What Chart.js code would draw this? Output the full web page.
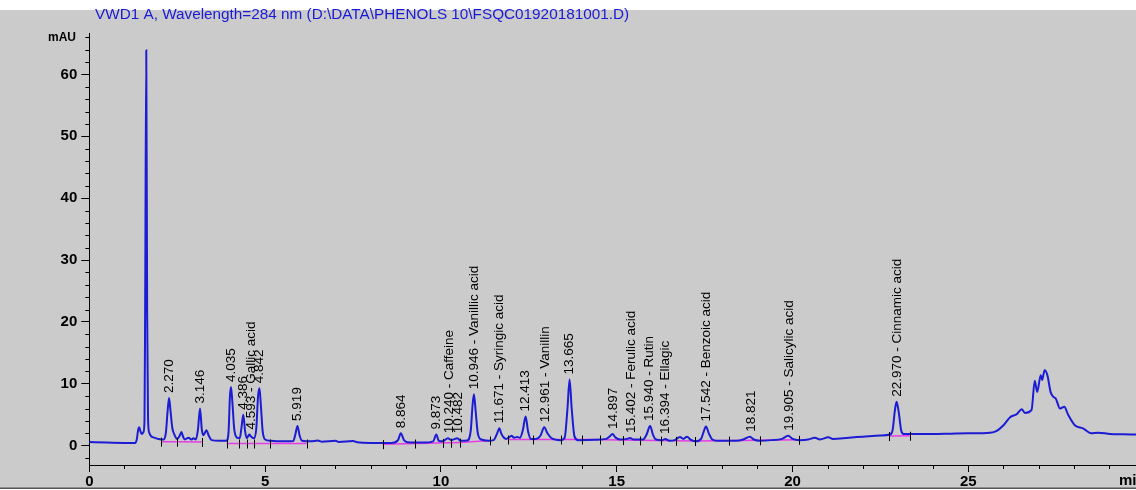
<!DOCTYPE html>
<html>
<head>
<meta charset="utf-8">
<script src="https://cdn.jsdelivr.net/npm/chart.js@4.4.1/dist/chart.umd.min.js"></script>
<style>
  html, body { margin: 0; padding: 0; background: #ffffff; overflow: hidden; }
  canvas { display: block; }
</style>
</head>
<body>
<canvas id="c" width="1136" height="490"></canvas>
<script>
// ---- DATA ----
const chartTitle = "VWD1 A, Wavelength=284 nm (D:\\DATA\\PHENOLS 10\\FSQC01920181001.D)";
const yUnit = "mAU";
const xUnit = "min";

// detector signal: [retention time (min), absorbance (mAU)]
const signal = [
  [0,0.6],[0.5,0.5],[1.0,0.45],[1.3,0.45],[1.35,1.0],[1.39,2.6],[1.42,3.0],[1.45,2.4],[1.49,1.9],
  [1.54,2.2],[1.57,4.0],[1.59,24],[1.62,63.9],[1.645,22],[1.67,4.5],[1.70,2.2],[1.75,1.6],[1.85,1.3],
  [2.0,1.05],[2.12,1.0],[2.18,2.2],[2.23,5.8],[2.27,7.7],[2.31,5.6],[2.36,2.9],[2.42,1.8],[2.50,1.1],
  [2.57,1.6],[2.62,2.2],[2.67,1.4],[2.72,1.0],[2.82,1.3],[2.90,1.0],[2.96,1.2],[3.03,1.0],[3.09,2.6],
  [3.15,6.0],[3.20,2.6],[3.25,1.7],[3.33,2.5],[3.40,1.6],[3.48,0.9],[3.70,0.8],[3.90,0.8],[3.96,2.2],
  [4.00,8.0],[4.03,9.5],[4.07,7.0],[4.12,2.8],[4.20,1.3],[4.28,1.2],[4.33,3.0],[4.38,5.0],[4.43,2.4],
  [4.48,1.2],[4.55,1.8],[4.60,1.5],[4.68,1.2],[4.75,2.8],[4.80,8.0],[4.84,9.3],[4.88,6.5],[4.93,2.4],
  [5.00,1.0],[5.15,0.8],[5.40,0.7],[5.80,0.75],[5.86,1.8],[5.92,3.2],[5.98,1.7],[6.05,0.8],[6.30,0.7],
  [6.50,0.85],[6.62,0.65],[7.00,0.8],[7.10,0.6],[7.50,0.75],[7.62,0.55],[8.00,0.45],[8.60,0.45],
  [8.78,0.9],[8.86,2.0],[8.95,0.9],[9.05,0.55],[9.50,0.5],[9.78,0.7],[9.87,1.8],[9.94,0.8],[10.05,0.7],
  [10.20,1.2],[10.30,0.9],[10.40,1.1],[10.47,1.2],[10.56,0.8],[10.75,0.85],[10.85,2.5],[10.90,6.5],
  [10.94,8.3],[10.99,5.5],[11.05,2.0],[11.15,1.0],[11.35,0.8],[11.50,0.9],[11.60,2.0],[11.66,2.8],
  [11.73,1.8],[11.85,1.1],[11.95,1.4],[12.01,1.6],[12.08,1.3],[12.17,1.4],[12.25,1.3],[12.33,2.5],
  [12.41,4.7],[12.48,2.3],[12.56,1.1],[12.70,1.1],[12.83,1.6],[12.94,3.0],[13.03,2.0],[13.15,1.2],
  [13.40,0.9],[13.52,1.3],[13.60,6.0],[13.66,10.7],[13.72,6.0],[13.80,1.5],[13.90,0.9],[14.40,0.95],
  [14.70,1.1],[14.80,1.5],[14.88,1.9],[14.97,1.3],[15.10,1.0],[15.30,1.1],[15.38,1.25],[15.48,1.0],
  [15.75,1.0],[15.85,1.8],[15.95,3.2],[16.03,1.8],[16.12,1.0],[16.30,0.9],[16.38,1.1],[16.50,0.8],
  [16.65,0.9],[16.80,1.4],[16.90,1.1],[17.00,1.45],[17.10,1.0],[17.25,0.7],[17.40,1.1],[17.47,2.2],
  [17.54,3.1],[17.62,2.0],[17.72,1.0],[17.85,0.8],[18.40,0.8],[18.60,1.0],[18.79,1.45],[18.90,1.0],
  [19.05,0.8],[19.40,0.9],[19.70,1.1],[19.88,1.6],[20.00,1.1],[20.20,0.9],[20.45,1.0],[20.64,1.3],
  [20.78,1.0],[21.02,1.35],[21.15,1.1],[21.60,1.3],[22.00,1.45],[22.50,1.65],[22.78,1.8],[22.85,2.6],
  [22.91,5.6],[22.96,7.1],[23.02,5.5],[23.09,2.5],[23.16,1.9],[23.40,1.9],[24.00,1.9],[24.50,1.95],
  [25.00,2.0],[25.62,2.1],[25.81,2.4],[26.00,3.3],[26.19,4.6],[26.38,5.1],[26.52,5.9],[26.61,5.3],
  [26.80,5.8],[26.89,10.5],[26.96,8.7],[27.06,11.4],[27.10,10.6],[27.17,12.2],[27.25,11.4],[27.34,8.7],
  [27.42,7.9],[27.49,7.6],[27.61,6.0],[27.73,6.3],[27.84,5.0],[28.03,3.3],[28.26,2.8],[28.50,2.0],
  [28.69,2.1],[29.03,1.9],[29.40,1.85],[29.80,1.8]
];

// integration baselines: [startTime, startValue, endTime, endValue]
const baselines = [
  [2.04,0.65,2.49,0.65],[2.49,0.65,3.20,0.6],[3.91,0.35,6.18,0.35],[8.34,0.25,10.54,0.5],
  [10.54,0.5,11.40,0.85],[11.92,1.0,14.52,1.0],[14.57,0.95,17.23,0.75],[17.23,0.75,20.19,0.95],
  [22.75,1.55,23.34,1.6]
];

// peak start/end markers: [time, value]
const peakMarks = [
  [2.04,0.65],[2.49,0.65],[3.20,0.6],[3.91,0.35],[4.27,0.35],[4.49,0.35],[4.68,0.35],[5.14,0.35],[6.18,0.35],
  [8.34,0.25],[9.26,0.35],[10.07,0.45],[10.29,0.48],[10.54,0.5],[11.40,0.85],[11.92,1.0],[12.63,1.0],
  [13.42,1.0],[14.00,1.0],[14.52,1.0],[15.19,0.9],[15.66,0.85],[16.26,0.82],[16.69,0.78],[17.23,0.75],
  [18.20,0.82],[19.08,0.87],[20.19,0.95],[22.75,1.55],[23.34,1.6]
];

// peak annotations
const peakTimes = [2.270,3.146,4.035,4.386,4.593,4.842,5.919,8.864,9.873,10.240,10.482,10.946,11.671,
  12.413,12.961,13.665,14.897,15.402,15.940,16.394,17.542,18.821,19.905,22.970];
const peakTexts = ["2.270","3.146","4.035","4.386","4.593 - Gallic acid","4.842","5.919","8.864","9.873",
  "10.240 - Caffeine","10.482","10.946 - Vanillic acid","11.671 - Syringic acid","12.413",
  "12.961 - Vanillin","13.665","14.897","15.402 - Ferulic acid","15.940 - Rutin","16.394 - Ellagic",
  "17.542 - Benzoic acid","18.821","19.905 - Salicylic acid","22.970 - Cinnamic acid"];

const yMajorStep = 10, yMinorStep = 2;
const xMajorStep = 5, xMinorStep = 1;

// ---- RENDER ----
const FONT = '"Liberation Sans", Arial, sans-serif';
const GRAY = '#cbcbcb';

const bgPlugin = {
  id: 'bg',
  beforeDraw(chart) {
    const c = chart.ctx;
    c.save();
    c.fillStyle = '#ffffff';
    c.fillRect(0, 0, chart.width, chart.height);
    c.fillStyle = GRAY;
    c.fillRect(0, 10, chart.width, 478);
    c.fillStyle = '#555555';
    c.fillRect(0, 487.5, chart.width, 1.5);
    c.fillStyle = '#1a1ad6';
    c.font = '15.3px ' + FONT;
    c.textAlign = 'left';
    c.textBaseline = 'middle';
    c.fillText(chartTitle, 95, 15);
    c.restore();
  }
};

function nearestPeakValue(t) {
  let best = null;
  for (const [x, y] of signal) {
    if (Math.abs(x - t) <= 0.05) best = best === null ? y : Math.max(best, y);
  }
  if (best === null) {
    for (let i = 1; i < signal.length; i++) {
      if (signal[i][0] >= t) {
        const [x0, y0] = signal[i - 1], [x1, y1] = signal[i];
        best = y0 + (y1 - y0) * (t - x0) / (x1 - x0);
        break;
      }
    }
  }
  return best;
}

const annoPlugin = {
  id: 'anno',
  afterDatasetsDraw(chart) {
    const c = chart.ctx, xs = chart.scales.x, ys = chart.scales.y;
    c.save();
    c.strokeStyle = '#000';
    c.lineWidth = 1;
    for (const [t, v] of peakMarks) {
      const px = Math.round(xs.getPixelForValue(t)) + 0.5;
      const py = ys.getPixelForValue(v);
      c.beginPath(); c.moveTo(px, py - 4); c.lineTo(px, py + 5); c.stroke();
    }
    c.fillStyle = '#000';
    c.font = '13.5px ' + FONT;
    c.textAlign = 'left';
    c.textBaseline = 'middle';
    peakTimes.forEach((t, i) => {
      const v = nearestPeakValue(t);
      const px = xs.getPixelForValue(t);
      const py = ys.getPixelForValue(v) - 5;
      c.save();
      c.translate(px, py);
      c.rotate(-Math.PI / 2);
      c.fillText(peakTexts[i], 0, 0);
      c.restore();
    });
    c.restore();
  },
  afterDraw(chart) {
    const c = chart.ctx, xs = chart.scales.x, ys = chart.scales.y;
    const ax = chart.chartArea.left, ay = chart.chartArea.bottom;
    c.save();
    c.strokeStyle = '#000';
    c.lineWidth = 1;
    for (let v = -2; v <= 66; v += yMinorStep) {
      if (v % yMajorStep === 0) continue;
      const py = Math.round(ys.getPixelForValue(v)) + 0.5;
      c.beginPath(); c.moveTo(ax - 4, py); c.lineTo(ax, py); c.stroke();
    }
    for (let t = xMinorStep; t <= 29; t += xMinorStep) {
      if (t % xMajorStep === 0) continue;
      const px = Math.round(xs.getPixelForValue(t)) + 0.5;
      c.beginPath(); c.moveTo(px, ay); c.lineTo(px, ay + 4); c.stroke();
    }
    c.fillStyle = '#000';
    c.font = 'bold 12px ' + FONT;
    c.textAlign = 'right';
    c.textBaseline = 'middle';
    c.fillText(yUnit, 76, ys.getPixelForValue(66));
    c.font = 'bold 15px ' + FONT;
    c.textAlign = 'left';
    c.fillText(xUnit, 1119, 481);
    c.restore();
  }
};

const datasets = [{
  data: signal.map(([x, y]) => ({ x, y })),
  borderColor: '#1c1cd4',
  borderWidth: 2,
  pointRadius: 0,
  cubicInterpolationMode: 'monotone',
  fill: false,
  order: 0
}];
for (const [t0, v0, t1, v1] of baselines) {
  datasets.push({
    data: [{ x: t0, y: v0 }, { x: t1, y: v1 }],
    borderColor: '#e63ce6',
    borderWidth: 1.5,
    pointRadius: 0,
    fill: false,
    order: 1
  });
}

new Chart(document.getElementById('c'), {
  type: 'line',
  data: { datasets },
  options: {
    responsive: false,
    animation: false,
    devicePixelRatio: 1,
    layout: { padding: { top: 33, left: 0, right: 0, bottom: 0 } },
    plugins: { legend: { display: false }, tooltip: { enabled: false }, title: { display: false } },
    scales: {
      x: {
        type: 'linear', min: 0, max: 29.77,
        afterFit(s) { s.height = 25; },
        border: { color: '#000', width: 1 },
        grid: { drawOnChartArea: false, tickLength: 7, color: '#000' },
        ticks: { stepSize: xMajorStep, includeBounds: false, color: '#000', padding: 1, maxRotation: 0,
                 font: { family: FONT, size: 15, weight: 'bold' } }
      },
      y: {
        type: 'linear', min: -3.12, max: 66.7,
        afterFit(s) { s.width = 89.3; },
        border: { color: '#000', width: 1 },
        grid: { drawOnChartArea: false, tickLength: 8, color: '#000' },
        ticks: { stepSize: yMajorStep, includeBounds: false, color: '#000', padding: 4,
                 font: { family: FONT, size: 15, weight: 'bold' } }
      }
    }
  },
  plugins: [bgPlugin, annoPlugin]
});
</script>
</body>
</html>
